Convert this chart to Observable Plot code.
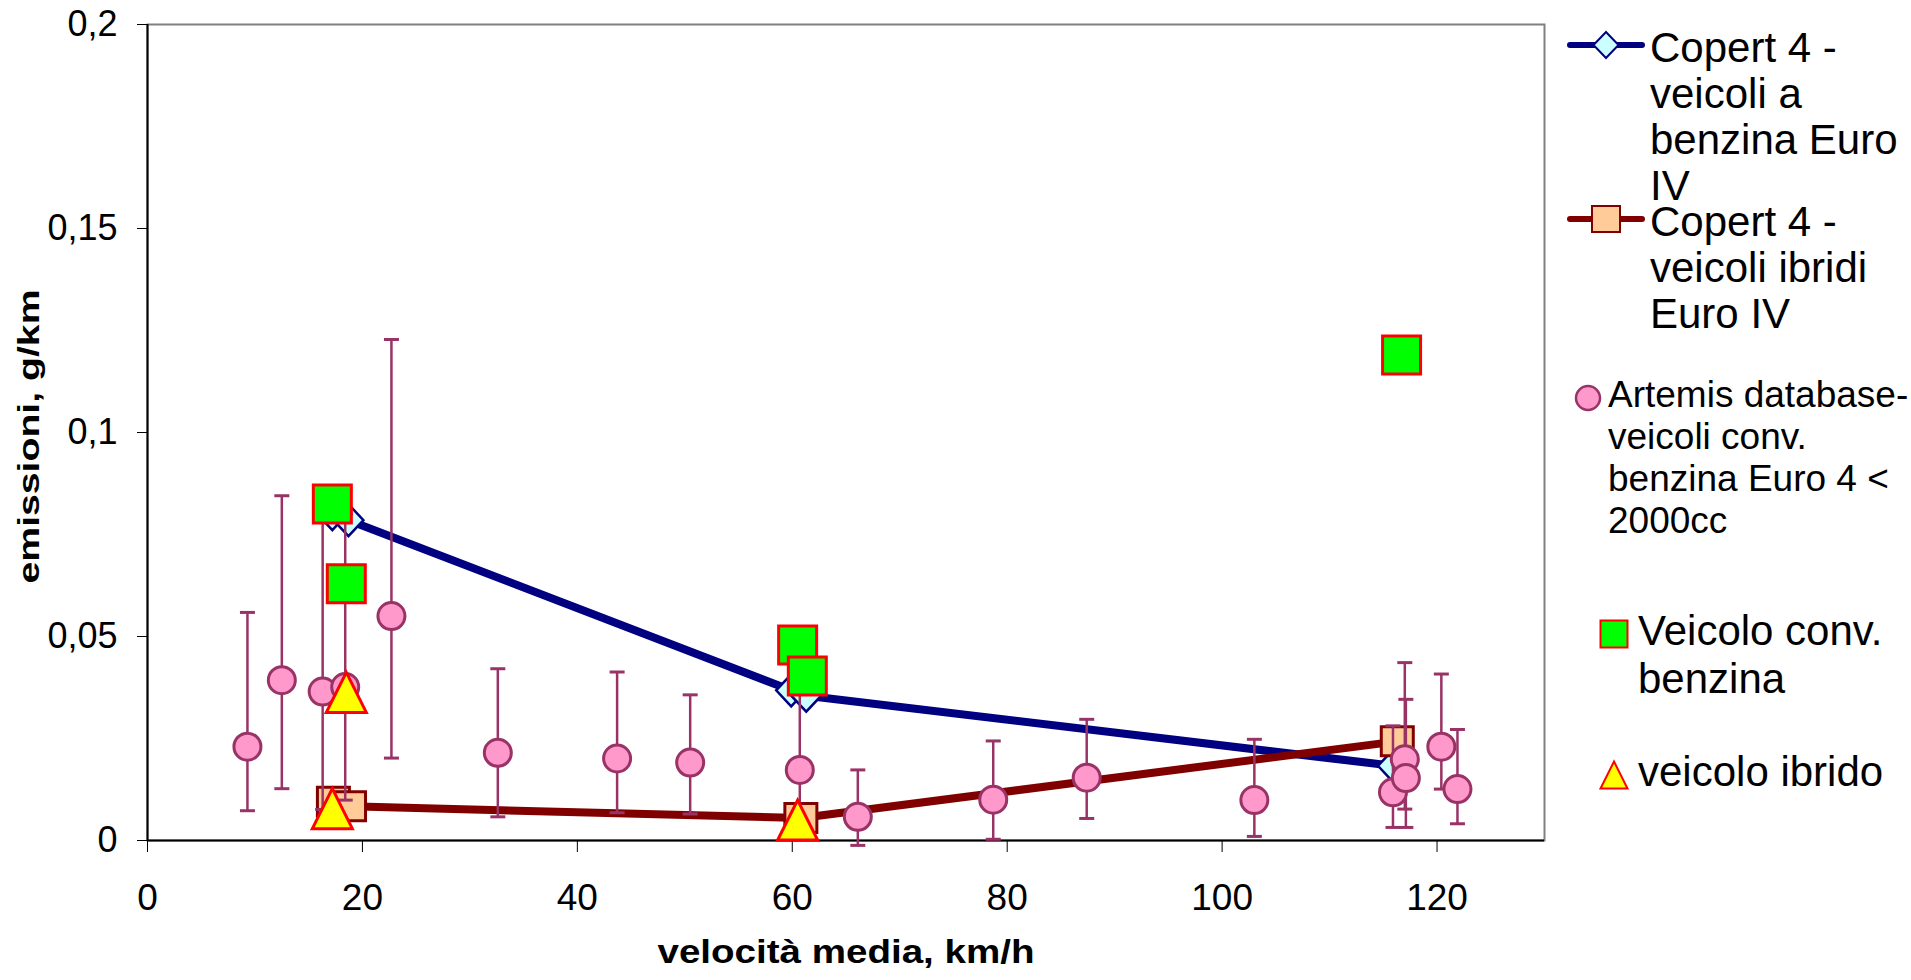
<!DOCTYPE html>
<html><head><meta charset="utf-8">
<script src="https://cdn.jsdelivr.net/npm/d3@7"></script>
<script src="https://cdn.jsdelivr.net/npm/@observablehq/plot@0.6"></script>
<style>
html,body{margin:0;padding:0;background:#fff;overflow:hidden}
#wrap{position:relative;width:1911px;height:980px;font-family:"Liberation Sans",Arial,sans-serif;color:#000}
.lg{position:absolute;white-space:nowrap}
.sw{position:absolute;overflow:visible}
</style></head><body><div id="wrap"></div><script>
// ---- data ----
const xTicks = [0, 20, 40, 60, 80, 100, 120];
const yTicks = [0, 0.05, 0.1, 0.15, 0.2];

const copertBenzinaX = [17.2, 18.7, 59.9, 61.3, 115.9];
const copertBenzinaY = [0.0800, 0.0785, 0.0368, 0.0355, 0.0183];

const copertIbridiX = [17.3, 18.8, 60.8, 116.3];
const copertIbridiY = [0.0095, 0.0084, 0.0055, 0.0243];

const artemisX  = [9.3, 12.5, 16.3, 18.4, 22.7, 32.6, 43.7, 50.5, 60.7, 66.1, 78.7, 87.4, 103.0, 115.9, 117.0, 117.1, 120.4, 121.9];
const artemisY  = [0.0230, 0.0393, 0.0365, 0.0376, 0.0550, 0.0215, 0.0201, 0.0191, 0.0173, 0.0058, 0.0100, 0.0154, 0.0099, 0.0118, 0.0199, 0.0153, 0.0230, 0.0126];
const artemisHi = [0.0559, 0.0845, 0.0820, 0.0800, 0.1228, 0.0421, 0.0413, 0.0357, 0.0400, 0.0173, 0.0244, 0.0297, 0.0248, 0.0281, 0.0436, 0.0346, 0.0408, 0.0272];
const artemisLo = [0.0073, 0.0127, 0.0076, 0.0099, 0.0202, 0.0058, 0.0068, 0.0065, 0.0050, -0.0012, 0.0003, 0.0054, 0.0010, 0.0032, 0.0077, 0.0032, 0.0126, 0.0041];

const convX = [17.2, 18.5, 60.5, 61.4, 116.7];
const convY = [0.0825, 0.0629, 0.0479, 0.0403, 0.1190];

const ibridoX = [17.2, 18.5, 60.5];
const ibridoY = [0.0078, 0.0363, 0.0050];

const xTitle = "velocità media, km/h";
const yTitle = "emissioni, g/km";

// ---- tables ----
const copB = copertBenzinaX.map((x, i) => ({x, y: copertBenzinaY[i]}));
const copI = copertIbridiX.map((x, i) => ({x, y: copertIbridiY[i]}));
const art = artemisX.map((x, i) => ({x, y: artemisY[i], hi: artemisHi[i], lo: artemisLo[i]}));
const conv = convX.map((x, i) => ({x, y: convY[i]}));
const ibr = ibridoX.map((x, i) => ({x, y: ibridoY[i]}));

// ---- symbols ----
const sym = f => ({draw(c) { f(c); }});
const diamond = sym(c => { c.moveTo(0, -16); c.lineTo(15, 0); c.lineTo(0, 16); c.lineTo(-15, 0); c.closePath(); });
const peach = sym(c => { c.rect(-16, -14.5, 32, 29); });
const greenSq = sym(c => { c.rect(-19, -19, 38, 38); });
const tri = sym(c => { c.moveTo(0, -20); c.lineTo(20, 20); c.lineTo(-20, 20); c.closePath(); });
const cap = sym(c => { c.moveTo(-7.5, 0); c.lineTo(7.5, 0); });

const FONT = '"Liberation Sans", Arial, sans-serif';

const chart = Plot.plot({
  width: 1911, height: 980,
  marginLeft: 147, marginRight: 367, marginTop: 24, marginBottom: 140,
  x: {domain: [0, 130]},
  y: {domain: [0, 0.2]},
  style: {fontFamily: FONT, fontSize: "37px", color: "#000", background: "transparent", overflow: "visible"},
  marks: [
    Plot.frame({stroke: "#808080", strokeWidth: 2}),
    Plot.axisX({ticks: xTicks, tickSize: 12, tickPadding: 31, label: null, fontSize: 37, tickFormat: d => String(d)}),
    Plot.axisY({ticks: yTicks, tickSize: 10, tickPadding: 20, label: null, fontSize: 36, tickFormat: d => String(d).replace(".", ",")}),
    Plot.ruleX([0], {stroke: "#000", strokeWidth: 2}),
    Plot.ruleY([0], {stroke: "#000", strokeWidth: 2}),
    Plot.line(copB, {x: "x", y: "y", stroke: "#000080", strokeWidth: 8}),
    Plot.line(copI, {x: "x", y: "y", stroke: "#800000", strokeWidth: 8}),
    Plot.dot(copB, {x: "x", y: "y", symbol: diamond, fill: "#CCFFFF", stroke: "#000080", strokeWidth: 2.5}),
    Plot.dot(copI, {x: "x", y: "y", symbol: peach, fill: "#FFCC99", stroke: "#800000", strokeWidth: 3}),
    Plot.ruleX(art, {x: "x", y1: "lo", y2: "hi", stroke: "#993366", strokeWidth: 2.5}),
    Plot.dot(art, {x: "x", y: "hi", symbol: cap, fill: "none", stroke: "#993366", strokeWidth: 3}),
    Plot.dot(art, {x: "x", y: "lo", symbol: cap, fill: "none", stroke: "#993366", strokeWidth: 3}),
    Plot.dot(art, {x: "x", y: "y", r: 13.5, fill: "#FF99CC", stroke: "#993366", strokeWidth: 3}),
    Plot.dot(conv, {x: "x", y: "y", symbol: greenSq, fill: "#00FF00", stroke: "#FF0000", strokeWidth: 3}),
    Plot.dot(ibr, {x: "x", y: "y", symbol: tri, fill: "#FFFF00", stroke: "#FF0000", strokeWidth: 3}),
    Plot.text([xTitle], {frameAnchor: "bottom", dy: 122.7, fontWeight: "bold", fontSize: 34, textAnchor: "middle"}),
    Plot.text([yTitle], {frameAnchor: "left", rotate: -90, dx: -118, dy: 4, fontWeight: "bold", fontSize: 29, textAnchor: "middle"})
  ]
});
chart.style.position = "absolute";
chart.style.left = "0px";
chart.style.top = "0px";
d3.select(chart).selectAll("text").each(function() {
  const t = this.textContent;
  if (t === xTitle) { this.setAttribute("textLength", 377); this.setAttribute("lengthAdjust", "spacingAndGlyphs"); }
  if (t === yTitle) { this.setAttribute("textLength", 294); this.setAttribute("lengthAdjust", "spacingAndGlyphs"); }
});
const wrap = document.getElementById("wrap");
wrap.appendChild(chart);

// ---- legend ----
const legend = [
  {swatch: `<svg class="sw" style="left:1566px;top:29px" width="80" height="32"><line x1="4" y1="16" x2="76" y2="16" stroke="#000080" stroke-width="6" stroke-linecap="round"/><path d="M40,3 L52.5,16 L40,29 L27.5,16 Z" fill="#CCFFFF" stroke="#000080" stroke-width="2"/></svg>`,
   text: ["Copert 4 -", "veicoli a", "benzina Euro", "IV"], left: 1650, top: 25.4, size: 42, lh: 46},
  {swatch: `<svg class="sw" style="left:1566px;top:203px" width="80" height="32"><line x1="4" y1="16" x2="76" y2="16" stroke="#800000" stroke-width="6" stroke-linecap="round"/><rect x="26" y="3" width="28" height="26" fill="#FFCC99" stroke="#800000" stroke-width="2"/></svg>`,
   text: ["Copert 4 -", "veicoli ibridi", "Euro IV"], left: 1650, top: 199.4, size: 42, lh: 46},
  {swatch: `<svg class="sw" style="left:1573px;top:383px" width="30" height="30"><circle cx="15" cy="15" r="12" fill="#FF99CC" stroke="#993366" stroke-width="2.5"/></svg>`,
   text: ["Artemis database-", "veicoli conv.", "benzina Euro 4 <", "2000cc"], left: 1608, top: 374, size: 37, lh: 42},
  {swatch: `<svg class="sw" style="left:1599px;top:619px" width="30" height="30"><rect x="1.5" y="1.5" width="27" height="27" fill="#00FF00" stroke="#FF0000" stroke-width="2"/></svg>`,
   text: ["Veicolo conv.", "benzina"], left: 1638, top: 607.4, size: 42, lh: 48},
  {swatch: `<svg class="sw" style="left:1599px;top:760px" width="30" height="30"><path d="M15,1.5 L28.5,28.5 L1.5,28.5 Z" fill="#FFFF00" stroke="#FF0000" stroke-width="2"/></svg>`,
   text: ["veicolo ibrido"], left: 1638, top: 748.4, size: 42, lh: 48}
];
for (const it of legend) {
  const sw = document.createElement("div");
  sw.innerHTML = it.swatch;
  wrap.appendChild(sw.firstChild);
  const d = document.createElement("div");
  d.className = "lg";
  d.style.left = it.left + "px";
  d.style.top = it.top + "px";
  d.style.fontSize = it.size + "px";
  d.style.lineHeight = it.lh + "px";
  it.text.forEach((line, i) => {
    if (i) d.appendChild(document.createElement("br"));
    d.appendChild(document.createTextNode(line));
  });
  wrap.appendChild(d);
}
</script></body></html>
